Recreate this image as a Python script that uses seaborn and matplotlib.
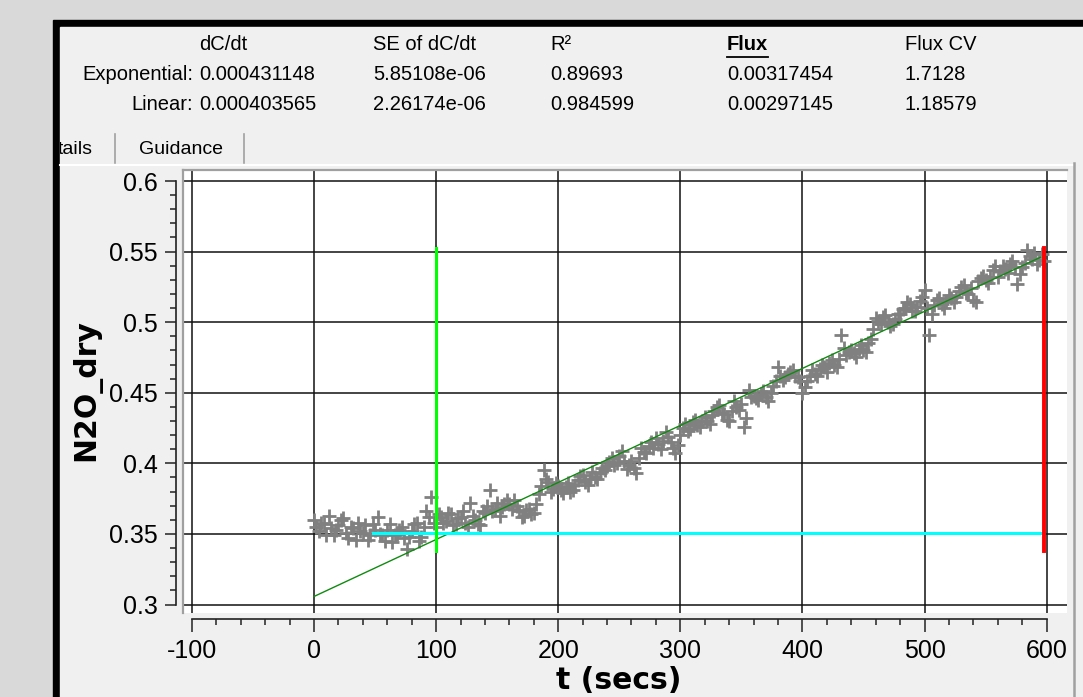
import numpy as np
import seaborn as sns
import matplotlib.pyplot as plt
from matplotlib.patches import Rectangle
from matplotlib.lines import Line2D
from matplotlib.transforms import Bbox

W, H = 1083, 697

t_secs = list(range(0, 600, 2))
n2o_dry = [
    0.360, 0.355, 0.352, 0.358, 0.357, 0.349, 0.363, 0.354, 0.349, 0.353,
    0.356, 0.360, 0.361, 0.351, 0.347, 0.355, 0.354, 0.346, 0.358, 0.352,
    0.351, 0.356, 0.346, 0.349, 0.357, 0.353, 0.362, 0.350, 0.349, 0.345,
    0.353, 0.357, 0.344, 0.349, 0.350, 0.353, 0.355, 0.347, 0.339, 0.348,
    0.352, 0.357, 0.358, 0.345, 0.348, 0.355, 0.366, 0.362, 0.376, 0.358,
    0.355, 0.364, 0.362, 0.358, 0.359, 0.365, 0.364, 0.356, 0.357, 0.361,
    0.362, 0.366, 0.358, 0.355, 0.372, 0.363, 0.360, 0.357, 0.356, 0.366,
    0.365, 0.370, 0.381, 0.366, 0.368, 0.372, 0.363, 0.369, 0.371, 0.374,
    0.371, 0.368, 0.374, 0.370, 0.366, 0.362, 0.363, 0.367, 0.368, 0.364,
    0.365, 0.371, 0.378, 0.384, 0.395, 0.389, 0.387, 0.380, 0.382, 0.386,
    0.384, 0.381, 0.379, 0.383, 0.386, 0.380, 0.381, 0.385, 0.388, 0.391,
    0.392, 0.387, 0.385, 0.389, 0.394, 0.390, 0.389, 0.393, 0.397, 0.395,
    0.398, 0.401, 0.404, 0.399, 0.400, 0.405, 0.409, 0.402, 0.396, 0.399,
    0.402, 0.397, 0.393, 0.404, 0.411, 0.408, 0.407, 0.412, 0.415, 0.411,
    0.418, 0.414, 0.410, 0.416, 0.422, 0.419, 0.415, 0.411, 0.407, 0.413,
    0.420, 0.425, 0.428, 0.423, 0.424, 0.429, 0.431, 0.427, 0.426, 0.430,
    0.433, 0.430, 0.428, 0.434, 0.437, 0.440, 0.441, 0.436, 0.435, 0.431,
    0.430, 0.437, 0.444, 0.440, 0.438, 0.442, 0.426, 0.432, 0.452, 0.447,
    0.448, 0.446, 0.445, 0.449, 0.451, 0.447, 0.444, 0.450, 0.455, 0.458,
    0.468, 0.462, 0.459, 0.461, 0.463, 0.465, 0.466, 0.462, 0.461, 0.458,
    0.450, 0.454, 0.458, 0.462, 0.466, 0.463, 0.462, 0.467, 0.470, 0.468,
    0.465, 0.471, 0.473, 0.470, 0.468, 0.474, 0.491, 0.482, 0.477, 0.479,
    0.480, 0.478, 0.475, 0.481, 0.484, 0.480, 0.479, 0.485, 0.488, 0.495,
    0.503, 0.501, 0.499, 0.504, 0.505, 0.500, 0.497, 0.499, 0.502, 0.506,
    0.506, 0.509, 0.510, 0.514, 0.513, 0.508, 0.508, 0.511, 0.515, 0.518,
    0.523, 0.510, 0.491, 0.506, 0.512, 0.516, 0.517, 0.513, 0.510, 0.515,
    0.519, 0.517, 0.514, 0.518, 0.522, 0.525, 0.526, 0.521, 0.520, 0.524,
    0.516, 0.514, 0.529, 0.531, 0.533, 0.530, 0.528, 0.532, 0.537, 0.540,
    0.532, 0.536, 0.540, 0.538, 0.535, 0.541, 0.543, 0.539, 0.527, 0.534,
    0.539, 0.542, 0.551, 0.547, 0.545, 0.549, 0.541, 0.544, 0.548, 0.543,
]

# linear fit line and the markers of the fit window
fit_t = [0, 595]
fit_c = [0.3057, 0.546]
start_t = 100
end_t = 598
marker_c = [0.338, 0.5525]
baseline_t = [48.6, 598]
baseline_c = 0.3504

x_ticks = [-100, 0, 100, 200, 300, 400, 500, 600]
x_tick_labels = ["-100", "0", "100", "200", "300", "400", "500", "600"]
y_ticks = [0.3, 0.35, 0.4, 0.45, 0.5, 0.55, 0.6]
y_tick_labels = ["0.3", "0.35", "0.4", "0.45", "0.5", "0.55", "0.6"]

# results table above the plot
col_headers = ["dC/dt", "SE of dC/dt", "R²", "Flux", "Flux CV"]
row_names = ["Exponential:", "Linear:"]
exp_values = ["0.000431148", "5.85108e-06", "0.89693", "0.00317454", "1.7128"]
lin_values = ["0.000403565", "2.26174e-06", "0.984599", "0.00297145", "1.18579"]
tab_names = ["tails", "Guidance"]

plt.rcParams["font.family"] = ["Liberation Sans", "DejaVu Sans"]
plt.rcParams["axes.unicode_minus"] = False


def fx(px):
    return px / W


def fy(py):
    return 1 - py / H


fig = plt.figure(figsize=(W / 100, H / 100), dpi=100, facecolor="#d9d9d9")

# window frame
fig.add_artist(Rectangle((fx(53), 0), 1, fy(20), transform=fig.transFigure,
                         color="black", zorder=-10))
fig.add_artist(Rectangle((fx(60), 0), 1, fy(27), transform=fig.transFigure,
                         color="#f0f0f0", zorder=-9))

# table text
col_x = [199, 373, 550, 727, 905]
for x, h in zip(col_x, col_headers):
    bold = h == "Flux"
    fig.text(fx(x), fy(45), h, fontsize=14.5, va="center", ha="left",
             fontweight="bold" if bold else "normal")
fig.add_artist(Line2D([fx(727), fx(768)], [fy(57), fy(57)], color="black",
                      lw=1.3, transform=fig.transFigure))
for y, name, vals in zip([75, 104], row_names, [exp_values, lin_values]):
    fig.text(fx(193), fy(y), name, fontsize=14.5, va="center", ha="right")
    for x, v in zip(col_x, vals):
        fig.text(fx(x), fy(y), v, fontsize=14.5, va="center", ha="left")

# tabs
t1 = fig.text(fx(93), fy(150), tab_names[0], fontsize=14, va="center", ha="right")
t1.set_clip_on(True)
t1.set_clip_box(Bbox.from_extents(60, 0, W, H))
fig.text(fx(181), fy(150), tab_names[1], fontsize=14, va="center", ha="center")
for x in [115, 244]:
    fig.add_artist(Line2D([fx(x), fx(x)], [fy(134), fy(163)], color="#a0a0a0",
                          lw=1.2, transform=fig.transFigure))
fig.add_artist(Line2D([fx(60), fx(1073)], [fy(165), fy(165)], color="white",
                      lw=1.5, transform=fig.transFigure))
fig.add_artist(Line2D([fx(1074), fx(1074)], [fy(163), 0], color="#a0a0a0",
                      lw=1.8, transform=fig.transFigure))

# plot canvas
ax = fig.add_axes([fx(183), fy(613), (1067 - 183) / W, (613 - 170) / H])
ax.set_facecolor("white")
ax.set_xlim(-107.3, 616.7)
ax.set_ylim(0.2940, 0.6078)

sns.scatterplot(x=t_secs, y=n2o_dry, marker="+", s=115, color="#808080",
                linewidth=2.0, ax=ax, zorder=3, legend=False)
sns.lineplot(x=fit_t, y=fit_c, color="#108a10", linewidth=1.0, ax=ax, zorder=4)
ax.plot(baseline_t, [baseline_c, baseline_c], color="#00ffff", lw=2.2, zorder=5)
ax.plot([start_t, start_t], marker_c, color="#00ff00", lw=2.2, zorder=6)
ax.plot([end_t, end_t], marker_c, color="#ff0000", lw=2.8, zorder=6)

ax.set_xticks(x_ticks)
ax.set_xticklabels(x_tick_labels)
ax.set_xticks(np.arange(-100, 601, 20), minor=True)
ax.set_yticks(y_ticks)
ax.set_yticklabels(y_tick_labels)
ax.set_yticks(np.arange(0.3, 0.6001, 0.01), minor=True)
ax.grid(True, which="major", color="#111111", lw=1.1)
ax.set_axisbelow(True)

for side in ["top", "right"]:
    ax.spines[side].set_visible(False)
ax.spines["left"].set_position(("outward", 5))
ax.spines["left"].set_bounds(0.3, 0.6)
ax.spines["bottom"].set_position(("outward", 4.5))
ax.spines["bottom"].set_bounds(-100, 600)
for side in ["left", "bottom"]:
    ax.spines[side].set_color("#222222")
    ax.spines[side].set_linewidth(1.2)

ax.tick_params(axis="y", which="major", length=8, width=1.1, pad=5,
               labelsize=18, color="#222222")
ax.tick_params(axis="y", which="minor", length=4.3, width=1.1, color="#222222")
ax.tick_params(axis="x", which="major", length=9, width=1.1, pad=5,
               labelsize=18, color="#222222")
ax.tick_params(axis="x", which="minor", length=4.3, width=1.1, color="#222222")
ax.set_xlabel("")
ax.set_ylabel("")

# sunken canvas frame (left and top)
ax.add_line(Line2D([0, 0], [0, 1], transform=ax.transAxes, color="#a0a0a0",
                   lw=1.6, clip_on=False, zorder=7))
ax.add_line(Line2D([0, 1], [1, 1], transform=ax.transAxes, color="#a0a0a0",
                   lw=1.6, clip_on=False, zorder=7))

fig.text(fx(86), fy(390), "N2O_dry", rotation=90, ha="center", va="center",
         fontsize=21.5, fontweight="bold", family="DejaVu Sans")
fig.text(fx(619), fy(689), "t (secs)", ha="center", va="baseline",
         fontsize=21.5, fontweight="bold", family="DejaVu Sans")

fig.savefig("out.png", dpi=100, facecolor=fig.get_facecolor())
